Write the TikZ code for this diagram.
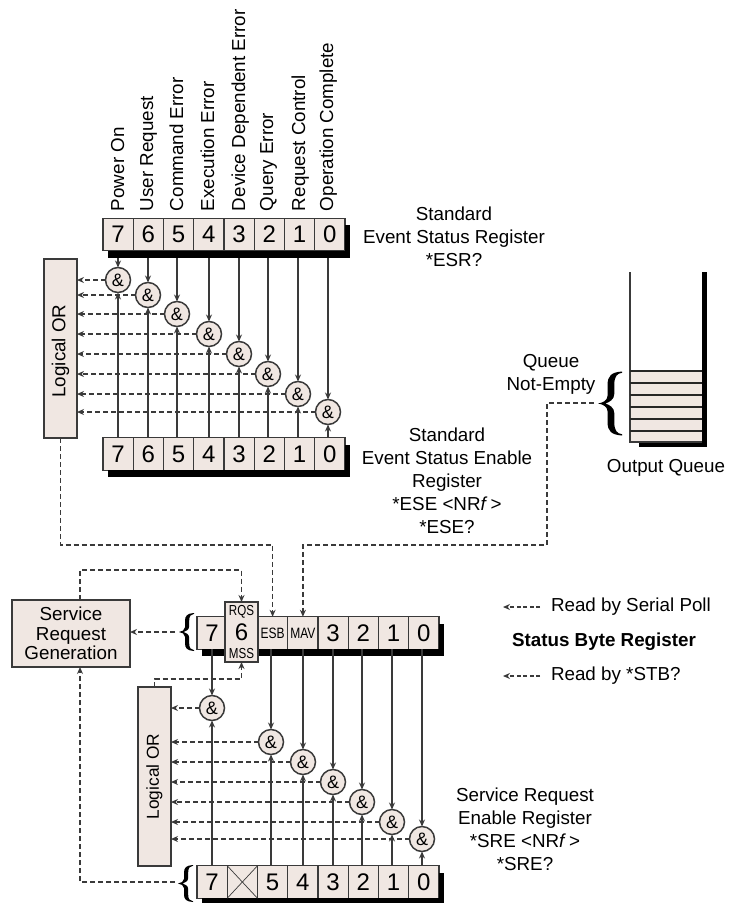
\documentclass[tikz,border=0pt]{standalone}
\usepackage{fontspec}
\setmainfont{Liberation Sans}
\newfontfamily\narrowsf[FakeStretch=0.8]{Liberation Sans}
\usetikzlibrary{positioning, arrows.meta, calc}
\definecolor{regfill}{HTML}{F0E7E2}
\definecolor{linegray}{HTML}{3A3A3A}

\begin{document}
\begin{tikzpicture}[x=1pt, y=-1pt]
		\tikzset{
			>={Stealth[length=7pt, width=6pt]},
			every node/.style={font=\fontsize{18.8}{23}\selectfont, inner sep=0pt, outer sep=0pt},
			cell/.style={draw=linegray, line width=1.3pt, fill=regfill, minimum width=30.25pt, minimum height=32.5pt, font=\fontsize{24}{24}\selectfont},
			andgate/.style={draw=linegray, line width=1.5pt, circle, fill=regfill, minimum size=25pt, font=\fontsize{18}{18}\selectfont},
			orbox/.style={draw=linegray, line width=1.5pt, fill=regfill, rotate=90, minimum height=33pt},
			narrowtag/.style={font=\narrowsf\fontsize{15}{15}\selectfont},
			sigline/.style={draw=linegray, line width=1.4pt, ->},
			dashline/.style={draw=linegray, line width=1.4pt, dash pattern=on 5pt off 3pt},
			textblock/.style={align=center},
			pics/bigbrace/.style={code={
				\fill (1,1) .. controls (0.55,0.98) and (0.4,0.85) .. (0.4,0.6) -- (0.4,0.25)
					.. controls (0.4,0.1) and (0.2,0.02) .. (0,0) .. controls (0.2,-0.02) and (0.4,-0.1) .. (0.4,-0.25)
					-- (0.4,-0.6) .. controls (0.4,-0.85) and (0.55,-0.98) .. (1,-1) -- (1,-0.96)
					.. controls (0.8,-0.94) and (0.68,-0.85) .. (0.68,-0.6) -- (0.68,-0.3)
					.. controls (0.68,-0.12) and (0.45,-0.03) .. (0.3,0) .. controls (0.45,0.03) and (0.68,0.12) .. (0.68,0.3)
					-- (0.68,0.6) .. controls (0.68,0.85) and (0.8,0.94) .. (1,0.96) -- cycle;
			}}
		}
		\useasboundingbox (0,0) rectangle (737,903);
		
		% Event names
		\foreach \b/\x/\t in {7/124/Power On, 6/153/User Request, 5/183/Command Error, 4/214/Execution Error, 3/245/Device Dependent Error, 2/273/Query Error, 1/305/Request Control, 0/333/Operation Complete}
			\node[rotate=90, anchor=base west] (name\b) at (\x,211) {\t};
		
		% Standard event status register
		\foreach \b [count=\i from 0] in {7,6,...,0}
			\node[cell] (esr\b) at ({118.1+30.25*\i},234.5) {\b};
		
		% Standard event status enable register
		\foreach \b [count=\i from 0] in {7,6,...,0}
			\node[cell] (ese\b) at ({118.1+30.25*\i},454) {\b};
		
		% Logical OR of the event bits
		\node[orbox, minimum width=179pt] (orone) at (60.5,348.5) {Logical OR\hspace*{5pt}};
		
		% Event AND gates
		\foreach \b/\x/\y in {7/118/280, 6/148/295, 5/177/314, 4/209/334, 3/239/354, 2/268/374, 1/298/394, 0/328/412}
			\node[andgate] (eand\b) at (\x,\y) {\&};
		
		% Draw arrows of the event bits
		\foreach \b in {7,6,...,0} {
			\draw[sigline] (esr\b.south -| eand\b) -- (eand\b);
			\draw[sigline] (ese\b.north -| eand\b) -- (eand\b);
			\draw[dashline, ->] (eand\b) -- (eand\b -| orone.south);
		}
		
		% Register shadows
		\fill ($(esr7.south west)+(5,0)$) rectangle ($(esr0.south east)+(5,7)$);
		\fill ($(esr0.north east)+(0,7)$) rectangle ($(esr0.south east)+(5,7)$);
		\fill ($(ese7.south west)+(5,0)$) rectangle ($(ese0.south east)+(5,7)$);
		\fill ($(ese0.north east)+(0,7)$) rectangle ($(ese0.south east)+(5,7)$);
		
		% Register captions
		\node[textblock] (esrtext) at (454,237) {Standard\\Event Status Register\\*ESR?};
		\node[textblock] (esetext) at (447,481) {Standard\\Event Status Enable\\Register\\*ESE <NR\textit{f}\,>\\*ESE?};
		\node[textblock] (queuetext) at (551,374) {Queue\\Not-Empty};
		\node (outtext) at (666,468) {Output Queue};
		\node[textblock] (sretext) at (525,829) {Service Request\\Enable Register\\*SRE <NR\textit{f}\,>\\*SRE?};
		
		% Output queue
		\fill (639,442) rectangle (707,447);
		\fill (702,272) rectangle (707,447);
		\fill[regfill] (630,371) rectangle (702,442);
		\draw[linegray, line width=1.3pt] (630,272) -- (630,442) -- (702,442);
		\foreach \y in {371,383,395,407,419,431}
			\draw[black!85, line width=1.2pt] (630,\y) -- (702,\y);
		\pic[xscale=24, yscale=32] at (598,403.5) {bigbrace};
		\coordinate (queuetip) at (594,403);
		
		% Service request generation
		\node[draw=linegray, line width=1.5pt, fill=regfill, minimum width=118pt, minimum height=67pt, align=center, font=\fontsize{18.8}{19.5}\selectfont] (srg) at (71,633.5) {Service\\Request\\Generation};
		\coordinate (srgout) at (80,600);
		\coordinate (srgin) at (80,667);
		
		% Status byte register
		\node[cell] (stb7) at (212.1,633) {7};
		\node[cell, narrowtag] (stb5) at (272.6,633) {ESB};
		\node[cell, narrowtag] (stb4) at (302.9,633) {MAV};
		\foreach \b [count=\i from 1] in {3,2,1,0}
			\node[cell] (stb\b) at ({302.9+30.25*\i},633) {\b};
		\fill ($(stb7.south west)+(5,0)$) rectangle ($(stb0.south east)+(5,7)$);
		\fill ($(stb0.north east)+(0,7)$) rectangle ($(stb0.south east)+(5,7)$);
		\pic[xscale=15, yscale=19] at (179,632) {bigbrace};
		\coordinate (stbtip) at (175,632);
		\node[cell, minimum width=33pt, minimum height=60pt] (stb6) at (241.5,632) {6};
		\node[below=3.5pt of stb6.north, font=\narrowsf\fontsize{14.5}{14.5}\selectfont] (rqs) {RQS};
		\node[above=3.5pt of stb6.south, font=\narrowsf\fontsize{14.5}{14.5}\selectfont] (mss) {MSS};
		
		% Read notes
		\node[anchor=west] (pollnote) at (551,607) {Read by Serial Poll};
		\node[font=\fontsize{18.8}{23}\selectfont\bfseries] (stbtext) at (604,642) {Status Byte Register};
		\node[anchor=west] (stbnote) at (551,676) {Read by *STB?};
		\coordinate (pollend) at (503,607);
		\coordinate (stbend) at (503,676);
		\draw[dashline, dash pattern=on 4pt off 2.5pt, ->] ($(pollnote.west)+(-11,0)$) -- (pollend);
		\draw[dashline, dash pattern=on 4pt off 2.5pt, ->] ($(stbnote.west)+(-11,0)$) -- (stbend);
		
		% Service request enable register
		\foreach \b/\t [count=\i from 0] in {7/7, 6/, 5/5, 4/4, 3/3, 2/2, 1/1, 0/0}
			\node[cell] (sre\b) at ({212.1+30.25*\i},882) {\t};
		\fill ($(sre7.south west)+(5,0)$) rectangle ($(sre0.south east)+(5,7)$);
		\fill ($(sre0.north east)+(0,7)$) rectangle ($(sre0.south east)+(5,7)$);
		\draw[linegray, line width=.7pt] (sre6.north west) -- (sre6.south east);
		\draw[linegray, line width=.7pt] (sre6.south west) -- (sre6.north east);
		\pic[xscale=15, yscale=18.5] at (178,883.5) {bigbrace};
		\coordinate (sretip) at (175,882);
		
		% Logical OR of the status bits
		\node[orbox, minimum width=179pt, font=\fontsize{17.3}{17.3}\selectfont] (ortwo) at (154.5,776.5) {Logical OR};
		
		% Status AND gates
		\foreach \b/\x/\y in {7/212/708, 5/271/742, 4/303/762, 3/333/782, 2/362/802, 1/392/822, 0/422/839}
			\node[andgate] (sand\b) at (\x,\y) {\&};
		
		% Draw arrows of the status bits
		\foreach \b in {7,5,4,3,2,1,0} {
			\draw[sigline] (stb\b.south -| sand\b) -- (sand\b);
			\draw[sigline] (sre\b.north -| sand\b) -- (sand\b);
			\draw[dashline, ->] (sand\b) -- (sand\b -| ortwo.south);
		}
		
		% Dashed links
		\draw[dashline, ->] (orone.west) -- ++(0,107) -| (stb5.north);
		\draw[dashline, ->] (queuetip) -- ++(-47,0) -- ++(0,142) -| (stb4.north);
		\draw[dashline, ->] (srgout) -- ++(0,-30) -| (stb6.north);
		\draw[dashline, ->] (ortwo.east) -- ++(0,-8) -| (stb6.south);
		\draw[dashline, ->] (stbtip) -- (srg.east |- stbtip);
		\draw[dashline, ->] (sretip) -| (srgin);
	\end{tikzpicture}
\end{document}
